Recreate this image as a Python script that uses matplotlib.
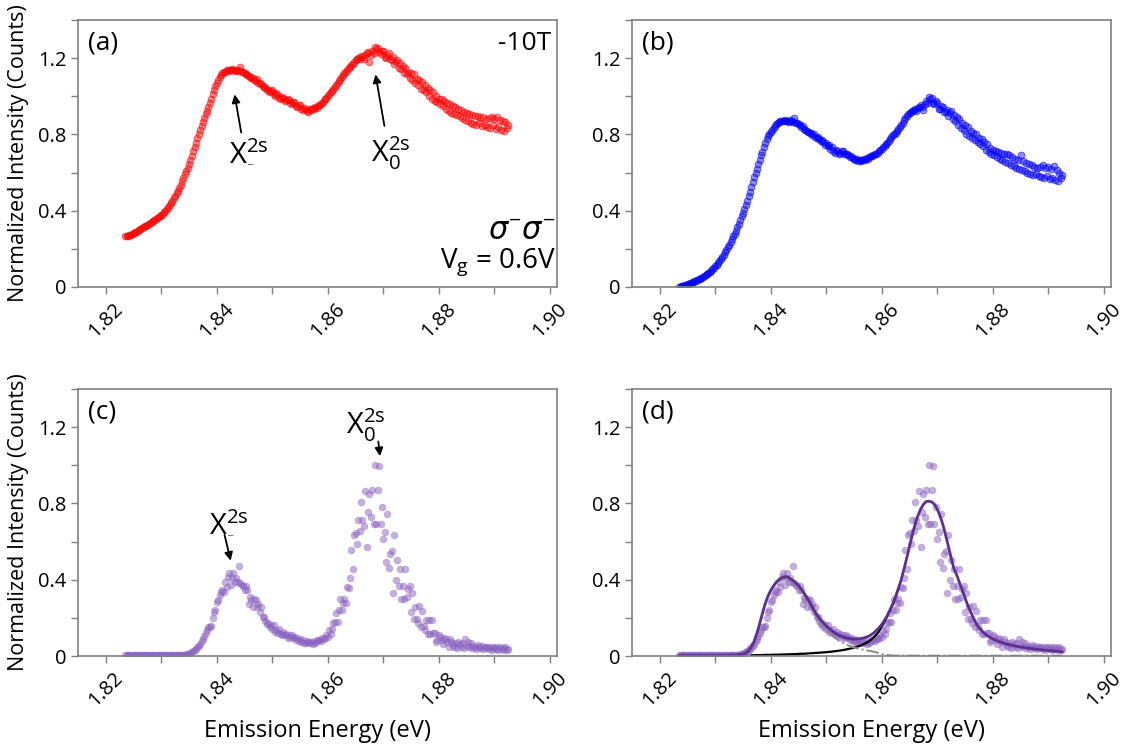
import numpy as np
import matplotlib
matplotlib.use("Agg")
import matplotlib.pyplot as plt
from matplotlib.ticker import MultipleLocator

plt.rcParams['font.family'] = ['Open Sans', 'DejaVu Sans']
plt.rcParams['mathtext.fontset'] = 'custom'
plt.rcParams['mathtext.rm'] = 'Open Sans'
plt.rcParams['mathtext.it'] = 'DejaVu Sans:italic'
plt.rcParams['mathtext.sf'] = 'DejaVu Sans'

# spectrometer grid: first pixel and pixel step (eV)
e_first = 1.8235
e_step = 0.00025

# (a) -10T, sigma- sigma-, Vg = 0.6V  (red)
counts_a = [
    .265, .268, .270, .272, .275, .278, .283, .287, .291, .295, .300, .304, .307, .312, .318, .322, .327, .331, .337, .341,
    .346, .351, .356, .360, .366, .371, .378, .384, .393, .400, .408, .418, .428, .440, .452, .465, .478, .492, .505, .520,
    .537, .555, .572, .590, .607, .626, .645, .666, .688, .711, .735, .757, .780, .803, .825, .846, .866, .887, .905, .925,
    .945, .966, .985, 1.010, 1.035, 1.052, 1.068, 1.085, 1.100, 1.110, 1.120, 1.127, 1.130, 1.138, 1.140, 1.134, 1.136, 1.142, 1.138, 1.134,
    1.140, 1.132, 1.138, 1.155, 1.128, 1.130, 1.122, 1.118, 1.112, 1.105, 1.100, 1.095, 1.098, 1.088, 1.082, 1.090, 1.072, 1.068, 1.062, 1.055,
    1.050, 1.043, 1.040, 1.030, 1.020, 1.028, 1.032, 1.010, 1.000, 1.015, 1.008, .990, .985, .995, .990, .975, .978, .985, .980, .965,
    .960, .968, .970, .950, .945, .955, .952, .935, .930, .940, .935, .925, .920, .932, .930, .938, .935, .942, .940, .948,
    .955, .958, .965, .975, .985, .990, 1.000, 1.010, 1.020, 1.030, 1.040, 1.050, 1.060, 1.072, 1.080, 1.092, 1.100, 1.110, 1.120, 1.130,
    1.140, 1.150, 1.155, 1.165, 1.170, 1.180, 1.190, 1.195, 1.200, 1.195, 1.210, 1.205, 1.195, 1.215, 1.225, 1.230, 1.180, 1.215, 1.235, 1.225,
    1.260, 1.250, 1.255, 1.230, 1.220, 1.240, 1.235, 1.205, 1.200, 1.215, 1.225, 1.195, 1.190, 1.205, 1.170, 1.180, 1.190, 1.150, 1.175, 1.145,
    1.160, 1.120, 1.150, 1.115, 1.130, 1.095, 1.120, 1.085, 1.115, 1.070, 1.090, 1.060, 1.085, 1.040, 1.075, 1.035, 1.060, 1.020, 1.045, 1.000,
    1.035, .985, 1.020, .975, 1.000, .970, .985, .960, .985, .950, .975, .935, .965, .925, .960, .915, .950, .905, .945, .900,
    .935, .895, .930, .885, .920, .875, .910, .870, .905, .860, .900, .855, .895, .850, .895, .860, .885, .845, .890, .850,
    .880, .840, .885, .835, .890, .850, .880, .830, .890, .840, .875, .825, .870, .820, .865, .835, .850,
]

# (b) (blue)
counts_b = [
    .002, .003, .005, .007, .009, .011, .014, .017, .020, .023, .026, .029, .032, .036, .040, .044, .048, .052, .056, .062,
    .068, .073, .078, .085, .092, .100, .108, .116, .125, .135, .145, .156, .168, .181, .195, .208, .222, .236, .250, .265,
    .280, .296, .312, .331, .350, .370, .390, .410, .430, .452, .475, .500, .525, .550, .575, .598, .620, .645, .665, .690,
    .710, .735, .755, .775, .790, .800, .815, .825, .835, .845, .855, .860, .865, .868, .870, .872, .875, .868, .870, .865,
    .875, .868, .865, .885, .862, .858, .855, .848, .840, .845, .830, .825, .818, .812, .810, .805, .795, .800, .788, .780,
    .785, .775, .765, .772, .760, .745, .755, .740, .745, .725, .735, .715, .705, .720, .712, .700, .705, .715, .712, .698,
    .695, .700, .690, .680, .685, .678, .670, .665, .672, .660, .668, .660, .665, .670, .668, .675, .672, .680, .685, .688,
    .690, .695, .700, .705, .715, .720, .725, .735, .740, .748, .755, .765, .775, .785, .795, .802, .810, .820, .830, .840,
    .850, .862, .875, .885, .895, .905, .910, .918, .925, .930, .935, .925, .940, .945, .955, .945, .930, .960, .975, .965,
    .995, .985, .990, .965, .960, .975, .965, .935, .935, .950, .945, .920, .920, .930, .895, .910, .925, .880, .900, .870,
    .890, .850, .880, .835, .860, .825, .850, .800, .840, .790, .820, .780, .810, .770, .800, .760, .780, .750, .775, .740,
    .760, .720, .750, .710, .730, .700, .720, .690, .715, .680, .710, .670, .705, .665, .700, .655, .695, .650, .690, .640,
    .680, .635, .670, .625, .665, .620, .690, .615, .660, .610, .650, .600, .645, .595, .640, .585, .630, .590, .625, .580,
    .630, .575, .640, .570, .625, .580, .630, .565, .620, .570, .635, .560, .615, .555, .600, .570, .585,
]

# (c)/(d) background-subtracted (purple)
counts_c = [
    .003, .003, .003, .003, .003, .003, .003, .003, .003, .003, .003, .003, .003, .003, .003, .003, .003, .003, .003, .003,
    .003, .003, .003, .003, .003, .003, .003, .003, .003, .003, .003, .003, .003, .003, .004, .004, .004, .004, .004, .004,
    .004, .005, .006, .007, .009, .011, .013, .016, .020, .025, .030, .037, .045, .055, .065, .077, .090, .105, .120, .138,
    .150, .150, .158, .200, .232, .241, .282, .294, .320, .337, .346, .337, .390, .363, .413, .433, .372, .407, .433, .390,
    .407, .390, .472, .384, .372, .367, .346, .367, .346, .273, .308, .294, .255, .300, .294, .255, .273, .230, .255, .206,
    .206, .185, .168, .171, .150, .163, .140, .163, .125, .135, .120, .140, .118, .110, .125, .108, .115, .095, .110, .100,
    .110, .095, .101, .085, .093, .080, .090, .075, .084, .070, .066, .078, .072, .066, .075, .064, .080, .070, .078, .084,
    .084, .080, .093, .088, .093, .110, .101, .136, .114, .140, .171, .180, .225, .180, .241, .297, .241, .276, .299, .280,
    .363, .358, .407, .556, .455, .634, .643, .586, .711, .657, .809, .711, .683, .867, .570, .757, .849, .727, .872, .692,
    1.000, .692, .872, .998, .692, .783, .613, .652, .494, .743, .460, .533, .550, .329, .636, .398, .505, .367, .456, .300,
    .367, .300, .456, .311, .350, .367, .232, .333, .196, .259, .192, .171, .264, .154, .234, .159, .135, .190, .115, .189,
    .115, .189, .119, .122, .075, .084, .110, .100, .084, .061, .095, .087, .075, .049, .087, .072, .060, .049, .066, .040,
    .072, .061, .049, .066, .040, .087, .050, .072, .045, .066, .040, .055, .049, .035, .060, .045, .040, .050, .035, .049,
    .040, .049, .035, .045, .031, .049, .040, .035, .045, .031, .049, .035, .040, .031, .045, .030, .035,
]

# fit curves in (d), sampled every 0.5 meV
fit_first = 1.8235
fit_step = 0.0005
fit_total = [
    .003, .003, .003, .003, .003, .003, .003, .003, .003, .003,
    .003, .003, .003, .003, .003, .003, .004, .004, .004, .005,
    .005, .006, .008, .010, .016, .027, .048, .075, .120, .170,
    .225, .275, .315, .345, .368, .388, .402, .411, .415, .415,
    .406, .396, .383, .369, .350, .330, .306, .283, .255, .228,
    .208, .190, .172, .158, .145, .133, .122, .113, .106, .100,
    .095, .092, .090, .089, .089, .090, .093, .097, .102, .110,
    .120, .133, .148, .166, .188, .213, .243, .275, .312, .355,
    .400, .455, .515, .575, .635, .690, .735, .770, .795, .810,
    .812, .808, .795, .770, .735, .690, .635, .575, .515, .458,
    .425, .385, .345, .305, .265, .232, .200, .172, .150, .133,
    .118, .107, .098, .090, .083, .077, .072, .067, .063, .059,
    .056, .053, .050, .047, .045, .043, .041, .039, .037, .035,
    .033, .032, .030, .029, .028, .026, .025, .024, .022,
]
fit_xminus = [
    .003, .003, .003, .003, .003, .003, .003, .003, .003, .003,
    .003, .003, .003, .003, .003, .003, .004, .004, .004, .005,
    .005, .006, .008, .010, .016, .027, .044, .071, .115, .165,
    .220, .269, .309, .339, .361, .381, .395, .403, .407, .406,
    .397, .386, .373, .358, .338, .318, .293, .269, .240, .212,
    .191, .172, .153, .138, .123, .110, .097, .086, .077, .069,
    .061, .055, .050, .045, .041, .037, .034, .031, .028, .026,
    .023, .019, .015, .011, .008, .006, .004, .003, .002, .002,
    .002, .002, .002, .002, .002, .002, .002, .002, .002, .002,
    .002, .002, .002, .002, .002, .002, .002, .002, .002, .002,
    .002, .002, .002, .002, .002, .002, .002, .002, .002, .002,
    .002, .002, .002, .002, .002, .002, .002, .002, .002, .002,
    .002, .002, .002, .002, .002, .002, .002, .002, .002, .002,
    .002, .002, .002, .002, .002, .002, .002, .002, .002,
]
x0_first = 1.8365
fit_x0 = [
    .004, .004, .005, .005, .005, .006, .006, .006, .007, .007,
    .007, .008, .008, .009, .009, .010, .010, .011, .012, .012,
    .013, .014, .015, .016, .017, .018, .019, .020, .022, .023,
    .025, .027, .029, .031, .034, .037, .040, .044, .048, .053,
    .059, .066, .074, .084, .097, .112, .130, .155, .180, .209,
    .240, .273, .310, .353,
]

energy = e_first + e_step * np.arange(len(counts_a))
fit_e = fit_first + fit_step * np.arange(len(fit_total))
x0_e = x0_first + fit_step * np.arange(len(fit_x0))

xticks = [1.82, 1.84, 1.86, 1.88, 1.90]
yticks = [0, 0.4, 0.8, 1.2]
ytick_labels = ['0', '0.4', '0.8', '1.2']

purple_pts = '#8a63c0'
purple_line = '#5e2f91'


def style_axes(ax):
    ax.set_xlim(1.815, 1.9013)
    ax.set_ylim(0, 1.4)
    ax.set_xticks(xticks)
    ax.set_xticklabels(['%.2f' % t for t in xticks], rotation=45)
    ax.xaxis.set_minor_locator(MultipleLocator(0.01))
    ax.set_yticks(yticks)
    ax.set_yticklabels(ytick_labels)
    ax.yaxis.set_minor_locator(MultipleLocator(0.2))
    for sp in ax.spines.values():
        sp.set_color('#808080')
        sp.set_linewidth(1.2)
    ax.tick_params(which='both', direction='out', color='#808080', width=1.0, length=5,
                   labelsize=14.5, labelcolor='black')


def dots(ax, y, rgb, face_alpha, edge_alpha):
    face = matplotlib.colors.to_rgba(rgb, face_alpha)
    edge = matplotlib.colors.to_rgba(rgb, edge_alpha)
    ax.scatter(energy, y, s=24, facecolors=[face], edgecolors=[edge], linewidths=0.6)


fig = plt.figure(figsize=(11.23, 7.47), dpi=100)
ax_a = fig.add_axes([0.0695, 0.6158, 0.4265, 0.3574])
ax_b = fig.add_axes([0.5628, 0.6158, 0.4265, 0.3574])
ax_c = fig.add_axes([0.0695, 0.1218, 0.4265, 0.3574])
ax_d = fig.add_axes([0.5628, 0.1218, 0.4265, 0.3574])

dots(ax_a, counts_a, 'red', 0.45, 0.6)
dots(ax_b, counts_b, 'blue', 0.45, 0.6)
dots(ax_c, counts_c, purple_pts, 0.5, 0.35)
dots(ax_d, counts_c, purple_pts, 0.5, 0.35)

ax_d.plot(x0_e, fit_x0, color='black', lw=1.6)
ax_d.plot(fit_e, fit_xminus, color='#8c8c8c', lw=1.4, ls='-.')
ax_d.plot(fit_e, fit_total, color=purple_line, lw=2.0)

for ax in (ax_a, ax_b, ax_c, ax_d):
    style_axes(ax)

ax_a.set_ylabel('Normalized Intensity (Counts)', fontsize=15.5, labelpad=6)
ax_c.set_ylabel('Normalized Intensity (Counts)', fontsize=15.5, labelpad=6)
ax_c.set_xlabel('Emission Energy (eV)', fontsize=17, labelpad=6)
ax_d.set_xlabel('Emission Energy (eV)', fontsize=17, labelpad=6)

for ax, lab in zip((ax_a, ax_b, ax_c, ax_d), ('(a)', '(b)', '(c)', '(d)')):
    ax.text(0.02, 0.96, lab, transform=ax.transAxes, ha='left', va='top', fontsize=19)

ax_a.text(0.988, 0.96, '-10T', transform=ax_a.transAxes, ha='right', va='top', fontsize=19)
ax_a.text(0.997, 0.205, r'$\sigma^{-}\sigma^{-}$', transform=ax_a.transAxes,
          ha='right', va='center', fontsize=22)
ax_a.text(0.997, 0.095, r'V$_{\mathrm{g}}$ = 0.6V', transform=ax_a.transAxes,
          ha='right', va='center', fontsize=20)

arrow = dict(arrowstyle='-|>', color='black', lw=1.3, mutation_scale=12, shrinkA=0, shrinkB=0)
label_minus = 'X$_{\\mathsf{\u2010}}^{\\mathrm{2s}}$'
label_zero = r'X$_{\mathrm{0}}^{\mathrm{2s}}$'

ax_a.annotate('', xy=(1.8432, 1.01), xytext=(1.8444, 0.81), arrowprops=arrow)
ax_a.text(1.8458, 0.71, label_minus, ha='center', va='center', fontsize=21)
ax_a.annotate('', xy=(1.8686, 1.115), xytext=(1.8702, 0.845), arrowprops=arrow)
ax_a.text(1.8714, 0.70, label_zero, ha='center', va='center', fontsize=21)

ax_c.annotate('', xy=(1.8425, 0.50), xytext=(1.8414, 0.635), arrowprops=arrow)
ax_c.text(1.8422, 0.70, label_minus, ha='center', va='center', fontsize=21)
ax_c.annotate('', xy=(1.8694, 1.048), xytext=(1.8691, 1.125), arrowprops=arrow)
ax_c.text(1.8668, 1.21, label_zero, ha='center', va='center', fontsize=21)

fig.savefig('out.png', dpi=100)
